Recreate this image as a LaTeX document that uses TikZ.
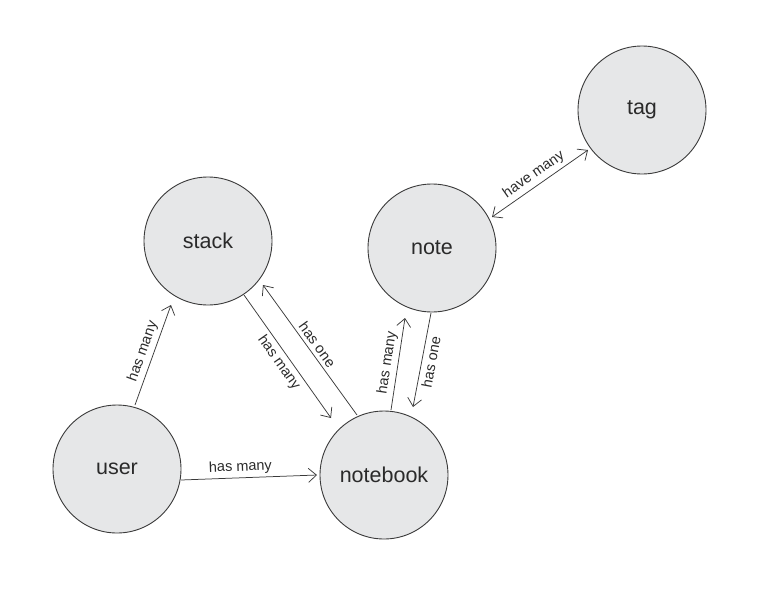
\documentclass[tikz,border=0pt]{standalone}
\usepackage{fontspec}
\setmainfont{Liberation Sans}
\usetikzlibrary{arrows.meta,calc}
\definecolor{nodefill}{HTML}{E6E7E8}
\definecolor{nodeline}{HTML}{3A3A3A}
\definecolor{txt}{HTML}{2A2A2A}
\tikzset{
  entity/.style={circle, draw=nodeline, line width=0.9pt, fill=nodefill, minimum size=128pt, inner sep=0pt, text=txt, font=\fontsize{21.5}{25}\selectfont},
  rel/.style={draw=nodeline, line width=0.75pt, -{Straight Barb[length=8pt,width=14pt,line width=0.75pt]}},
  birel/.style={draw=nodeline, line width=0.75pt, {Straight Barb[length=8pt,width=14pt,line width=0.75pt]}-{Straight Barb[length=8pt,width=14pt,line width=0.75pt]}},
  lbl/.style={sloped, midway, inner sep=3.5pt, text=txt, font=\fontsize{14.5}{17}\selectfont}
}
\begin{document}
\begin{tikzpicture}[x=1pt,y=-1pt]
\useasboundingbox (0,0) rectangle (776,600);
\node[entity] (stack) at (208,241) {stack};
\node[entity] (note) at (432,248) {note};
\node[entity] (tag) at (642,110) {tag};
\node[entity] (user) at (117,469) {user};
\node[entity] (notebook) at (384,475) {notebook};

\draw[rel] ($(user.center)+(18,-64)$) -- node[lbl,above] {has many} ($(stack.center)+(-37,64)$);
\draw[rel] ($(stack.center)+(36,54)$) -- node[lbl,below] {has many} ($(notebook.center)+(-53,-57)$);
\draw[rel] ($(notebook.center)+(-27,-60)$) -- node[lbl,above] {has one} ($(stack.center)+(55,44)$);
\draw[rel] ($(user.center)+(64,11)$) -- node[lbl,above,pos=0.44] {has many} ($(notebook.center)+(-67,0)$);
\draw[rel] ($(notebook.center)+(7,-65)$) -- node[lbl,above] {has many} ($(note.center)+(-27,70)$);
\draw[rel] ($(note.center)+(-1,65)$) -- node[lbl,below] {has one} ($(notebook.center)+(29,-68)$);
\draw[birel] ($(note.center)+(60,-31)$) -- node[lbl,above] {have many} ($(tag.center)+(-54,40)$);
\end{tikzpicture}
\end{document}
